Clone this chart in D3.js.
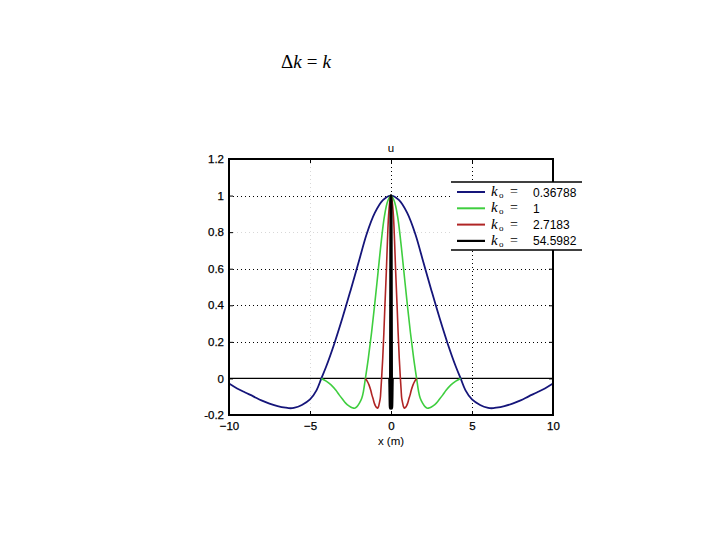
<!DOCTYPE html>
<html><head><meta charset="utf-8">
<script src="https://cdn.jsdelivr.net/npm/d3@7"></script>
<style>body{margin:0;background:#fff}svg{display:block}</style>
</head><body>
<script>
// ---- data ----
const xTicks = [-10, -5, 0, 5, 10];
const yTicks = [-0.2, 0, 0.2, 0.4, 0.6, 0.8, 1, 1.2];
const yTickLabels = ["-0.2", "0", "0.2", "0.4", "0.6", "0.8", "1", "1.2"];
const seriesNames = ["0.36788", "1", "2.7183", "54.5982"];

const blueX = [-10,-9.5,-9,-8.5,-8,-7.5,-7,-6.5,-6.2,-6,-5.5,-5,-4.6,-4.3,-4,-3.5,-3,-2.5,-2,-1.5,-1,-0.5,0,0.5,1,1.5,2,2.5,3,3.5,4,4.3,4.6,5,5.5,6,6.2,6.5,7,7.5,8,8.5,9,9.5,10];
const blueU = [-0.028,-0.055,-0.077,-0.098,-0.12,-0.138,-0.151,-0.16,-0.163,-0.161,-0.145,-0.115,-0.065,0,0.065,0.19,0.33,0.48,0.635,0.79,0.905,0.975,1,0.975,0.905,0.79,0.635,0.48,0.33,0.19,0.065,0,-0.065,-0.115,-0.145,-0.161,-0.163,-0.16,-0.151,-0.138,-0.12,-0.098,-0.077,-0.055,-0.028];

const greenX = [-4.3,-4,-3.7,-3.4,-3.2,-3,-2.8,-2.6,-2.4,-2.25,-2.1,-1.95,-1.8,-1.7,-1.58,-1.4,-1.2,-1,-0.8,-0.6,-0.4,-0.2,0,0.2,0.4,0.6,0.8,1,1.2,1.4,1.58,1.7,1.8,1.95,2.1,2.25,2.4,2.6,2.8,3,3.2,3.4,3.7,4,4.3];
const greenU = [0,-0.015,-0.035,-0.065,-0.09,-0.113,-0.135,-0.15,-0.16,-0.163,-0.154,-0.135,-0.107,-0.07,0,0.11,0.25,0.41,0.58,0.75,0.89,0.97,1,0.97,0.89,0.75,0.58,0.41,0.25,0.11,0,-0.07,-0.107,-0.135,-0.154,-0.163,-0.16,-0.15,-0.135,-0.113,-0.09,-0.065,-0.035,-0.015,0];

const redX = [-1.58,-1.47,-1.36,-1.25,-1.18,-1.1,-1.03,-0.96,-0.88,-0.83,-0.77,-0.72,-0.66,-0.63,-0.58,-0.51,-0.44,-0.37,-0.29,-0.22,-0.15,-0.07,0,0.07,0.15,0.22,0.29,0.37,0.44,0.51,0.58,0.63,0.66,0.72,0.77,0.83,0.88,0.96,1.03,1.1,1.18,1.25,1.36,1.47,1.58];
const redU = [0,-0.015,-0.035,-0.065,-0.09,-0.113,-0.135,-0.15,-0.16,-0.163,-0.154,-0.135,-0.107,-0.07,0,0.11,0.25,0.41,0.58,0.75,0.89,0.97,1,0.97,0.89,0.75,0.58,0.41,0.25,0.11,0,-0.07,-0.107,-0.135,-0.154,-0.163,-0.16,-0.15,-0.135,-0.113,-0.09,-0.065,-0.035,-0.015,0];

const blackX = [-0.079,-0.07,-0.06,-0.05,-0.041,-0.035,-0.029,-0.022,-0.015,-0.011,-0.007,-0.004,0,0.004,0.007,0.011,0.015,0.022,0.029,0.035,0.041,0.05,0.06,0.07,0.079];
const blackU = [0,-0.05,-0.11,-0.15,-0.163,-0.107,0,0.3,0.58,0.75,0.89,0.97,1,0.97,0.89,0.75,0.58,0.3,0,-0.107,-0.163,-0.15,-0.11,-0.05,0];

const colors = ["#15157a", "#3fce3f", "#b02525", "#000000"];
const widths = [1.8, 1.6, 1.6, 3];

// ---- drawing ----
const W = 720, H = 540;
const svg = d3.select("body").append("svg").attr("width", W).attr("height", H);
const L = 229, R = 553, T = 159, B = 415;
const x = d3.scaleLinear().domain([-10, 10]).range([L, R]);
const y = d3.scaleLinear().domain([-0.2, 1.2]).range([B, T]);

// top formula
const f = svg.append("text").attr("x", 281).attr("y", 67.5)
  .attr("font-family", "'Liberation Serif','DejaVu Serif',serif").attr("font-size", 19);
f.append("tspan").text("Δ");
f.append("tspan").attr("font-style", "italic").text("k");
f.append("tspan").attr("dx", 5).text("=");
f.append("tspan").attr("dx", 5).attr("font-style", "italic").text("k");

// grid
const g = svg.append("g");
[0.2, 0.4, 0.6, 0.8, 1].forEach(v => {
  g.append("line").attr("x1", L).attr("x2", R).attr("y1", Math.round(y(v)) + 0.5).attr("y2", Math.round(y(v)) + 0.5)
    .attr("stroke", v === 0.8 ? "#d8d8d8" : "#000").attr("stroke-width", 1).attr("stroke-dasharray", "1,3");
});
[-5, 0, 5].forEach(v => {
  g.append("line").attr("y1", T).attr("y2", B).attr("x1", Math.round(x(v)) + 0.5).attr("x2", Math.round(x(v)) + 0.5)
    .attr("stroke", v === -5 ? "#d8d8d8" : "#000").attr("stroke-width", 1).attr("stroke-dasharray", "1,3");
});

// zero line
svg.append("line").attr("x1", L).attr("x2", R).attr("y1", y(0)).attr("y2", y(0))
  .attr("stroke", "#000").attr("stroke-width", 1.2);

// curves
svg.append("clipPath").attr("id", "c").append("rect")
  .attr("x", L).attr("y", T).attr("width", R - L).attr("height", B - T);
const line = d3.line().x(d => x(d[0])).y(d => y(d[1])).curve(d3.curveCatmullRom.alpha(0.5));
const sets = [[blueX, blueU], [greenX, greenU], [redX, redU], [blackX, blackU]];
sets.forEach((s, i) => {
  const pts = s[0].map((v, j) => [v, s[1][j]]);
  svg.append("path").attr("d", line(pts)).attr("fill", "none")
    .attr("stroke", colors[i]).attr("stroke-width", widths[i]).attr("clip-path", "url(#c)")
    .attr("stroke-linejoin", "round");
});

// axes box
svg.append("rect").attr("x", L).attr("y", T).attr("width", R - L).attr("height", B - T)
  .attr("fill", "none").attr("stroke", "#000").attr("stroke-width", 2);

// ticks (inside, MATLAB style)
const axB = svg.append("g").attr("transform", `translate(0,${B})`)
  .call(d3.axisBottom(x).tickValues(xTicks).tickSizeInner(-4).tickSizeOuter(0).tickPadding(7));
const axT = svg.append("g").attr("transform", `translate(0,${T})`)
  .call(d3.axisTop(x).tickValues(xTicks).tickSizeInner(-4).tickSizeOuter(0).tickFormat(""));
const axL = svg.append("g").attr("transform", `translate(${L},0)`)
  .call(d3.axisLeft(y).tickValues(yTicks).tickSizeInner(-4).tickSizeOuter(0).tickPadding(5)
    .tickFormat((d, i) => yTickLabels[i]));
const axR = svg.append("g").attr("transform", `translate(${R},0)`)
  .call(d3.axisRight(y).tickValues(yTicks).tickSizeInner(-4).tickSizeOuter(0).tickFormat(""));
[axB, axT, axL, axR].forEach(a => {
  a.select(".domain").remove();
  a.selectAll("line").attr("stroke", "#000").attr("stroke-width", 1);
  a.selectAll("text").attr("font-family", "'Liberation Sans',Arial,sans-serif")
    .attr("font-size", 11.5).attr("fill", "#000").attr("stroke", "#000").attr("stroke-width", 0.25);
});

// titles
svg.append("text").attr("x", 391).attr("y", 152).attr("text-anchor", "middle").attr("fill", "#000")
  .attr("font-family", "'Liberation Sans',Arial,sans-serif").attr("font-size", 11.5).text("u");
svg.append("text").attr("x", 391).attr("y", 445).attr("text-anchor", "middle").attr("fill", "#000")
  .attr("font-family", "'Liberation Sans',Arial,sans-serif").attr("font-size", 11.5).text("x (m)");

// legend
const lg = svg.append("g");
lg.append("rect").attr("x", 451).attr("y", 182).attr("width", 131).attr("height", 68).attr("fill", "#fff");
lg.append("line").attr("x1", 451).attr("x2", 582).attr("y1", 182).attr("y2", 182).attr("stroke", "#000").attr("stroke-width", 1.5);
lg.append("line").attr("x1", 451).attr("x2", 582).attr("y1", 250).attr("y2", 250).attr("stroke", "#000").attr("stroke-width", 1.5);
seriesNames.forEach((n, i) => {
  const yy = 192 + i * 16.3;
  lg.append("line").attr("x1", 457).attr("x2", 485).attr("y1", yy).attr("y2", yy)
    .attr("stroke", colors[i]).attr("stroke-width", i === 3 ? 2.2 : 2);
  const ff = "'Liberation Serif','DejaVu Serif',serif";
  lg.append("text").attr("x", 491).attr("y", yy + 4).attr("font-family", ff)
    .attr("font-size", 15).attr("font-style", "italic").text("k");
  lg.append("text").attr("x", 499).attr("y", yy + 6).attr("font-family", ff)
    .attr("font-size", 9).text("o");
  lg.append("text").attr("x", 510).attr("y", yy + 4).attr("font-family", ff)
    .attr("font-size", 14).text("=");
  lg.append("text").attr("x", 533).attr("y", yy + 4.5)
    .attr("font-family", "'Liberation Sans',Arial,sans-serif").attr("font-size", 12).text(n);
});
</script>
</body></html>
